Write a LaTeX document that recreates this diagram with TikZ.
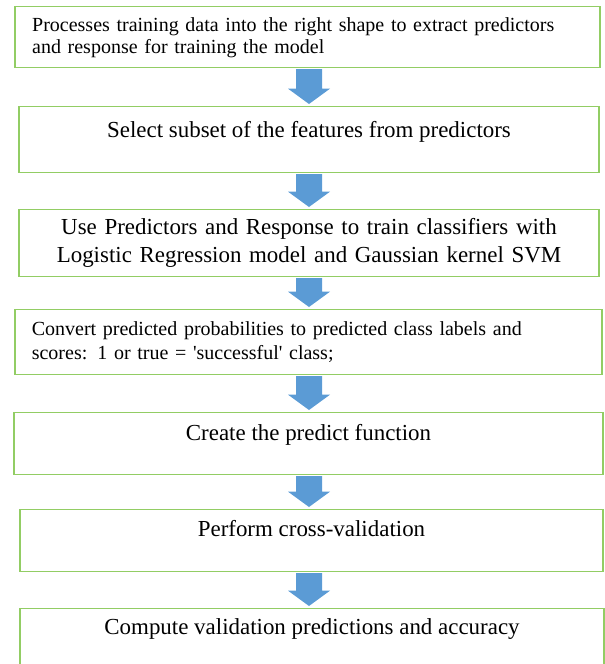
\documentclass[tikz,border=0pt]{standalone}
\usepackage{fontspec}
\setmainfont{Liberation Serif}
\usepackage{tikz}
\tikzset{x=.75pt,y=-.75pt}
\usetikzlibrary{calc}
\definecolor{boxgreen}{RGB}{146,205,100}
\definecolor{arrowblue}{RGB}{91,155,213}
\def\bigtxt{\fontsize{17.2}{19.5}\selectfont}
\def\smalltxt{\fontsize{15}{16.5}\selectfont}
% block arrow from the bottom of #1 to the top of #2
\newcommand{\flowarrow}[2]{%
  \fill[arrowblue] let \p1=(#1.south), \p2=(#2.north) in
    (309*.75pt-9.75pt,\y1-.5pt) -- (309*.75pt+9.75pt,\y1-.5pt)
    -- (309*.75pt+9.75pt,\y2+13pt) -- (309*.75pt+15.75pt,\y2+13pt)
    -- (309*.75pt,\y2+1.5pt) -- (309*.75pt-15.75pt,\y2+13pt)
    -- (309*.75pt-9.75pt,\y2+13pt) -- cycle;}

\begin{document}
\begin{tikzpicture}[stepbox/.style={draw=boxgreen, line width=1.1pt, fill=white,
    anchor=north, inner ysep=0pt, font=\bigtxt, align=center},
  leftbox/.style={stepbox, font=\smalltxt, align=left, inner xsep=12.75pt}]
\useasboundingbox (0,0) rectangle (605,664);
\clip (0,0) rectangle (605,664);

    \node[leftbox, minimum width=438.75pt, minimum height=45.75pt, text width=413pt]
      (prep) at (307.5,6)
      {Processes training data into the right shape to extract predictors\\
       and response for training the model};
    \node[stepbox, minimum width=435pt, text height=23.25pt, text depth=26.25pt]
      (select) at (309,106)
      {Select subset of the features from predictors};
    \node[stepbox, minimum width=435pt, minimum height=50.25pt, text width=415pt]
      (train) at (309,209)
      {Use Predictors and Response to train classifiers with\\[1.5pt]
       Logistic Regression model and Gaussian kernel SVM};
    \node[leftbox, minimum width=440.25pt, minimum height=48.75pt, text width=415pt]
      (convert) at (308.5,309)
      {Convert predicted probabilities to predicted class labels and\\[1.5pt]
       scores: 1 or true = \textquotesingle successful\textquotesingle{} class;};
    \node[stepbox, minimum width=441.75pt, text height=21pt, text depth=25.5pt]
      (predict) at (308.5,412)
      {Create the predict function};
    \node[stepbox, minimum width=437.25pt, text height=20.25pt, text depth=26.25pt]
      (crossval) at (311.5,509)
      {Perform cross-validation};
    \node[stepbox, minimum width=438pt, text height=19.5pt, text depth=42pt]
      (compute) at (312,608)
      {Compute validation predictions and accuracy};

    % arrows between the steps
    \flowarrow{prep}{select}
    \flowarrow{select}{train}
    \flowarrow{train}{convert}
    \flowarrow{convert}{predict}
    \flowarrow{predict}{crossval}
    \flowarrow{crossval}{compute}
\end{tikzpicture}
\end{document}
